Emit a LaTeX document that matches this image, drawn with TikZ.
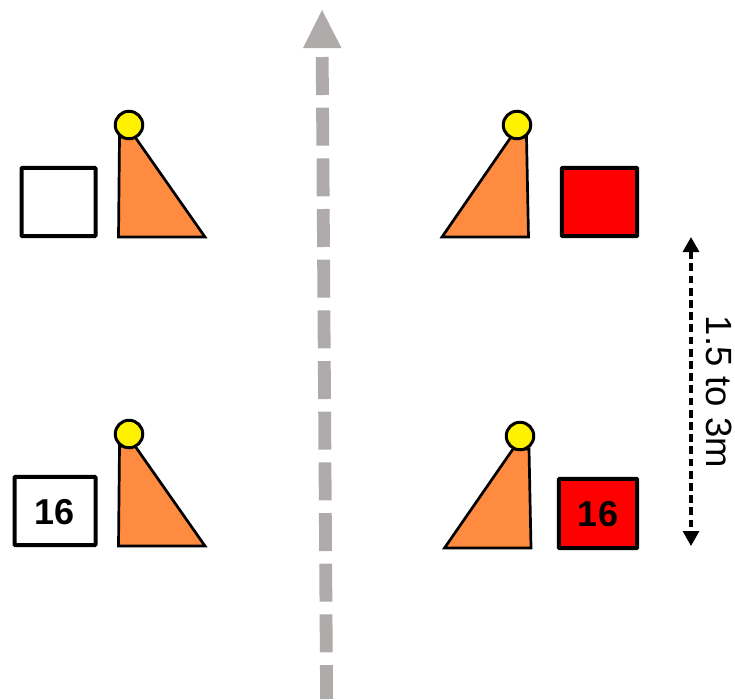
\documentclass[tikz,border=0pt]{standalone}
\usepackage{fontspec}
\setmainfont{Liberation Sans}
\usetikzlibrary{arrows.meta}
\definecolor{coneorange}{HTML}{FF8B40}
\definecolor{lanegray}{HTML}{AFABAB}
\tikzset{
  cone/.style={draw=black,fill=coneorange,line width=2.7pt,line join=miter},
  ball/.style={circle,draw=black,fill=yellow,line width=3pt,minimum size=27.5pt,inner sep=0pt,outer sep=0pt},
  board/.style={draw=black,line width=4pt,rounded corners=0.8pt},
  num/.style={font=\fontsize{36}{36}\selectfont\bfseries,text=black,inner sep=0pt},
  lane/.style={draw=lanegray,line width=12.8pt,dash pattern=on 38pt off 12.67pt},
  lanehead/.style={fill=lanegray,draw=none},
  span/.style={draw=black,line width=3.2pt,dash pattern=on 7.8pt off 4.4pt,{Triangle[length=15pt,width=16pt]}-{Triangle[length=15pt,width=16pt]}},
  spanlabel/.style={font=\fontsize{36.5}{36.5}\selectfont,rotate=-90,inner sep=0pt}
}
\begin{document}
\begin{tikzpicture}[x=1pt,y=-1pt]
\useasboundingbox (0,0) rectangle (735,699);
% lane
\coordinate (laneA) at (322.2,57);
\coordinate (laneB) at (326.6,699);
\draw[lane] (laneA) -- (laneB);
\fill[lanehead] (322,10) -- (341.5,48) -- (303,48) -- cycle;
% cones
\draw[cone] (119.5,137) -- (135,137) -- (205,237) -- (118.5,237) -- cycle;
\draw[cone] (119.5,446) -- (135,446) -- (205,546) -- (118.5,546) -- cycle;
\draw[cone] (511,137) -- (526.5,137) -- (528.5,237) -- (442,237) -- cycle;
\draw[cone] (513,449) -- (529,449) -- (531,548) -- (444.5,548) -- cycle;
\node[ball] (b1) at (129,125) {};
\node[ball] (b2) at (129,434) {};
\node[ball] (b3) at (517,125) {};
\node[ball] (b4) at (520,436) {};
% boards
\draw[board,fill=white] (21.5,167.8) rectangle (95.5,236.2);
\draw[board,fill=white] (14.5,476.8) rectangle (95.5,545.2);
\draw[board,fill=red] (561.8,167.8) rectangle (637.2,236.2);
\draw[board,fill=red] (558.8,478.8) rectangle (637.2,548.2);
\node[num] (n1) at (55,512) {16};
\node[num] (n2) at (598,514) {16};
% span
\coordinate (spanA) at (691,237);
\coordinate (spanB) at (691,546);
\draw[span] (spanA) -- (spanB);
\node[spanlabel] (t) at (719,392) {1.5 to 3m};
\end{tikzpicture}
\end{document}
